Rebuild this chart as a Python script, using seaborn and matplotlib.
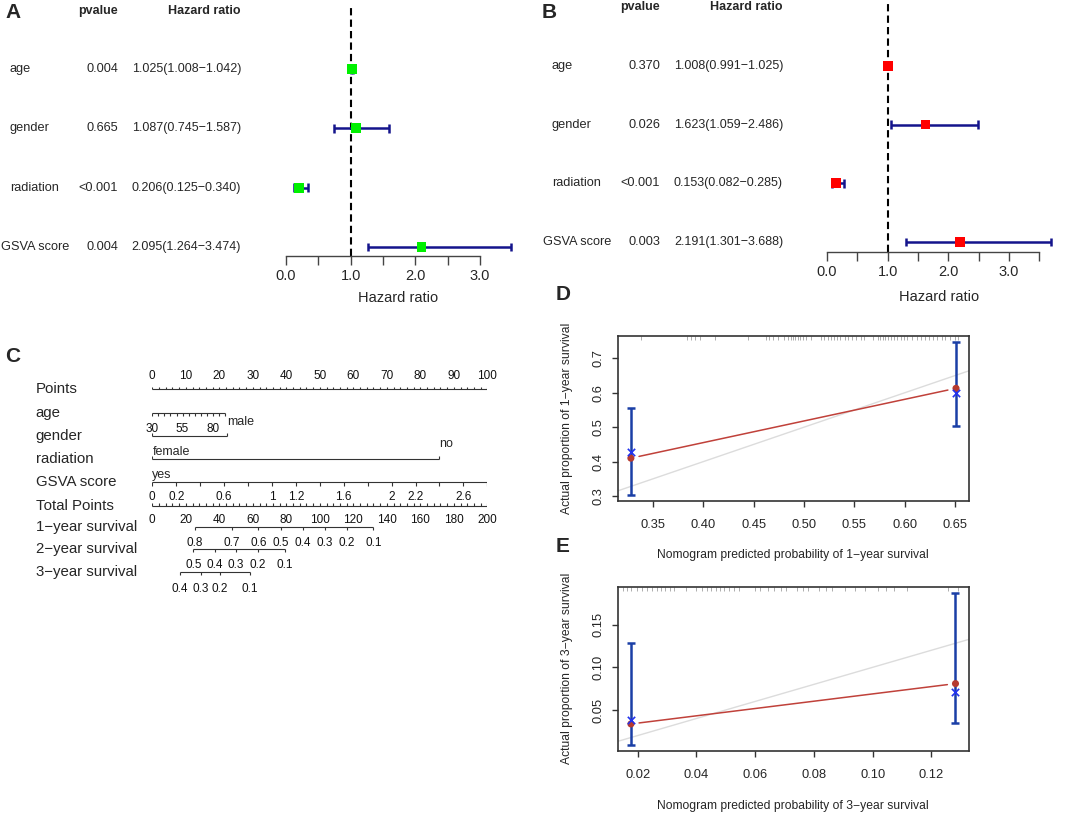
"""
Cox forest plots, nomogram and calibration curves (panels A-E)
"""
import numpy as np
import pandas as pd
import matplotlib
matplotlib.use("Agg")
import matplotlib.pyplot as plt
import matplotlib.transforms as mtransforms
import seaborn as sns

# ---------------- data ----------------
VARIABLES = ["age", "gender", "radiation", "GSVA score"]

# A: univariate Cox
uni_hr = [1.025, 1.087, 0.206, 2.095]
uni_lo = [1.008, 0.745, 0.125, 1.264]
uni_hi = [1.042, 1.587, 0.340, 3.474]
uni_p = ["0.004", "0.665", "<0.001", "0.004"]

# B: multivariate Cox
multi_hr = [1.008, 1.623, 0.153, 2.191]
multi_lo = [0.991, 1.059, 0.082, 1.301]
multi_hi = [1.025, 2.486, 0.285, 3.688]
multi_p = ["0.370", "0.026", "<0.001", "0.003"]

# C: nomogram scales (values -> points)
points_ticks = list(range(0, 101, 2))
points_labels = list(range(0, 101, 10))
age_range = [30, 90]
age_points = [0, 21.7]
age_ticks = list(range(30, 91, 5))
age_labels = [30, 55, 80]
gender_levels = ["female", "male"]
gender_points = [0, 22.2]
radiation_levels = ["yes", "no"]
radiation_points = [0, 85.5]
gsva_range = [0, 2.8]
gsva_ticks = [round(v, 1) for v in np.arange(0, 2.81, 0.2)]
gsva_labels = [0, 0.2, 0.6, 1, 1.2, 1.6, 2, 2.2, 2.6]
total_ticks = list(range(0, 201, 4))
total_labels = list(range(0, 201, 20))
surv1_probs = [0.8, 0.7, 0.6, 0.5, 0.4, 0.3, 0.2, 0.1]
surv1_total = [25.5, 47.4, 63.3, 76.8, 90.1, 103.1, 116.1, 132.0]
surv2_probs = [0.5, 0.4, 0.3, 0.2, 0.1]
surv2_total = [24.5, 37.4, 50.0, 62.9, 79.2]
surv3_probs = [0.4, 0.3, 0.2, 0.1]
surv3_total = [16.5, 29.1, 40.4, 58.3]

# D: 1-year calibration
cal1_pred = [0.328, 0.651]
cal1_obs = [0.410, 0.613]
cal1_corr = [0.429, 0.600]
cal1_lo = [0.304, 0.503]
cal1_hi = [0.555, 0.747]
cal1_rug = [0.3385, 0.384, 0.388, 0.392, 0.397, 0.412, 0.444, 0.462, 0.465,
            0.469, 0.474, 0.480, 0.484, 0.487, 0.489, 0.491, 0.494, 0.496,
            0.499, 0.502, 0.507, 0.517, 0.520, 0.524, 0.527, 0.530, 0.533,
            0.536, 0.541, 0.544, 0.548, 0.552, 0.557, 0.560, 0.569, 0.573,
            0.575, 0.578, 0.580, 0.583, 0.586, 0.589, 0.592, 0.596, 0.599,
            0.602, 0.607, 0.612, 0.616, 0.620, 0.624, 0.628, 0.632, 0.637,
            0.640, 0.645, 0.650, 0.653]

# E: 3-year calibration
cal3_pred = [0.0177, 0.1282]
cal3_obs = [0.0336, 0.0809]
cal3_corr = [0.0383, 0.0711]
cal3_lo = [0.0086, 0.0352]
cal3_hi = [0.1280, 0.1876]
cal3_rug = [0.0150, 0.0163, 0.0177, 0.0199, 0.0215, 0.0232, 0.0248, 0.0265,
            0.0279, 0.0292, 0.0309, 0.0325, 0.0363, 0.0397, 0.0418, 0.0435,
            0.0451, 0.0466, 0.0479, 0.0495, 0.0512, 0.0528, 0.0545, 0.0600,
            0.0616, 0.0644, 0.0665, 0.0688, 0.0704, 0.0742, 0.0764, 0.0781,
            0.0819, 0.0841, 0.0863, 0.0907, 0.0940, 0.0973, 0.1017, 0.1045,
            0.1072, 0.1116, 0.1258, 0.1292]

# ---------------- style ----------------
W, H = 1072, 814
NAVY = "#14148c"
ERR_BLUE = "#1a3fa6"
RED_LINE = "#c0413a"
RED_DOT = "#b63b30"
X_BLUE = "#2233ee"
INK = "#333333"

sns.set_theme(style="white")
plt.rcParams["font.family"] = ["Liberation Sans", "DejaVu Sans"]
plt.rcParams["axes.unicode_minus"] = True


def add_px_axes(fig, left, top, right, bottom):
    """Axes placed by pixel box (origin top-left)"""
    return fig.add_axes([left / W, 1 - bottom / H, (right - left) / W, (bottom - top) / H])


def fig_text(fig, x, y, s, **kwargs):
    return fig.text(x / W, 1 - y / H, s, **kwargs)


def draw_forest(fig, lay, hr, lo, hi, pvals, color):
    ax = add_px_axes(fig, lay["left"], lay["top"], lay["right"], lay["bottom"])
    n = len(VARIABLES)
    rows = np.arange(n, 0, -1)
    ax.set_xlim(0, (lay["right"] - lay["left"]) / lay["unit"])
    ax.set_ylim(*lay["ylim"])
    ax.axvline(1, color="black", lw=1.5, ls=(0, (3.5, 2)), zorder=1)
    ax.hlines(rows, lo, hi, color=NAVY, lw=1.8, zorder=2)
    cap_x = np.r_[lo, hi]
    cap_y = np.r_[rows, rows]
    ax.vlines(cap_x, cap_y - 0.075, cap_y + 0.075, color=NAVY, lw=1.8, zorder=2)
    df = pd.DataFrame({"hr": hr, "row": rows})
    sns.scatterplot(data=df, x="hr", y="row", marker="s", s=50, color=color,
                    edgecolor="none", ax=ax, zorder=3, legend=False)
    for side in ["top", "right", "left"]:
        ax.spines[side].set_visible(False)
    ax.spines["bottom"].set_bounds(0, lay["axis_max"])
    ax.spines["bottom"].set_color("#444444")
    ax.spines["bottom"].set_linewidth(1)
    ticks = np.arange(0, lay["axis_max"] + 0.01, 0.5)
    ax.set_xticks(ticks)
    ax.set_xticklabels([f"{t:.1f}" if t == int(t) else "" for t in ticks])
    ax.set_yticks([])
    ax.tick_params(axis="x", direction="out", length=6.5, width=1, color="#444444",
                   pad=3, labelsize=10.5, bottom=True)
    ax.set_xlabel("")
    ax.set_ylabel("")
    ax.patch.set_alpha(0)

    # text columns, rows tied to the data rows
    trans = mtransforms.blended_transform_factory(fig.transFigure, ax.transData)
    for i, name in enumerate(VARIABLES):
        lx = lay["label_x"] - (9 if name == "GSVA score" else 0)
        ax.text(lx / W, rows[i], name, transform=trans, ha="left", va="center",
                fontsize=9.2, clip_on=False)
        ax.text(lay["p_right"] / W, rows[i], pvals[i], transform=trans, ha="right",
                va="center", fontsize=9.2, clip_on=False)
        hr_txt = f"{hr[i]:.3f}({lo[i]:.3f}\u2212{hi[i]:.3f})"
        ax.text(lay["hr_right"] / W, rows[i], hr_txt, transform=trans, ha="right",
                va="center", fontsize=9.0, clip_on=False)
    fig_text(fig, lay["p_right"], lay["header_y"], "pvalue", ha="right", va="center",
             fontsize=9, fontweight="bold")
    fig_text(fig, lay["hr_right"], lay["header_y"], "Hazard ratio", ha="right",
             va="center", fontsize=9, fontweight="bold")
    fig_text(fig, lay["xlabel_x"], lay["xlabel_y"], "Hazard ratio", ha="center",
             va="center", fontsize=10.5)
    return ax


def nomo_scale(ax, y, x_min, x_max, tick_x, tick_len, labels, label_dy, ha="center"):
    """One nomogram axis: line, ticks (negative length = upward), labels"""
    ax.hlines(y, x_min, x_max, color=INK, lw=0.8)
    ax.vlines(tick_x, y, y + tick_len, color=INK, lw=0.8)
    for lx, txt in labels:
        ax.text(lx, y + label_dy, txt, ha=ha, va="center", fontsize=8.5, color="#111111")


def fmt_num(v):
    return f"{v:g}"


def draw_nomogram(fig):
    ax = add_px_axes(fig, 152.3, 360, 487.3, 600)
    ax.set_xlim(0, 100)
    ax.set_ylim(600, 360)
    ax.axis("off")

    row_y = {"Points": 389.3, "age": 412.7, "gender": 436.0, "radiation": 459.0,
             "GSVA score": 481.7, "Total Points": 505.7, "1\u2212year survival": 526.7,
             "2\u2212year survival": 549.3, "3\u2212year survival": 572.0}
    trans = mtransforms.blended_transform_factory(fig.transFigure, ax.transData)
    for name, y in row_y.items():
        ax.text(35.7 / W, y, name, transform=trans, ha="left", va="center",
                fontsize=10.8, clip_on=False)

    # Points
    nomo_scale(ax, row_y["Points"], 0, 100, points_ticks, -2.5,
               [(p, str(p)) for p in points_labels], -13.3)
    # age
    age_to_pts = lambda a: np.interp(a, age_range, age_points)
    nomo_scale(ax, row_y["age"], age_points[0], age_points[1], age_to_pts(age_ticks), 3,
               [(age_to_pts(a), str(a)) for a in age_labels], 16.3)
    # gender (categorical: first level below, second above)
    y = row_y["gender"]
    nomo_scale(ax, y, gender_points[0], gender_points[1], gender_points, -3, [], 0)
    ax.text(gender_points[0], y + 15.7, gender_levels[0], ha="left", va="center", fontsize=9)
    ax.text(gender_points[1], y - 14.3, gender_levels[1], ha="left", va="center", fontsize=9)
    # radiation
    y = row_y["radiation"]
    nomo_scale(ax, y, radiation_points[0], radiation_points[1], radiation_points, -3, [], 0)
    ax.text(radiation_points[0], y + 16, radiation_levels[0], ha="left", va="center", fontsize=9)
    ax.text(radiation_points[1], y - 15, radiation_levels[1], ha="left", va="center", fontsize=9)
    # GSVA score
    gsva_to_pts = lambda g: np.interp(g, gsva_range, [0, 100])
    nomo_scale(ax, row_y["GSVA score"], 0, 100, gsva_to_pts(gsva_ticks), 4,
               [(gsva_to_pts(g), fmt_num(g)) for g in gsva_labels], 15.6)
    # Total Points (0-200 mapped onto 0-100)
    nomo_scale(ax, row_y["Total Points"], 0, 100, np.array(total_ticks) / 2, -2.5,
               [(t / 2, str(t)) for t in total_labels], 14.3)
    # survival scales
    for key, probs, tot, dy in [("1\u2212year survival", surv1_probs, surv1_total, 16.0),
                                ("2\u2212year survival", surv2_probs, surv2_total, 15.7),
                                ("3\u2212year survival", surv3_probs, surv3_total, 16.7)]:
        xs = np.array(tot) / 2
        nomo_scale(ax, row_y[key], xs.min(), xs.max(), xs, 3,
                   [(x, fmt_num(p)) for x, p in zip(xs, probs)], dy)
    return ax


def draw_calibration(fig, box, xlim, ylim, xticks, yticks, xfmt, yfmt,
                     pred, obs, corr, lo, hi, rug, xlabel, ylabel, xlabel_y, ylabel_y):
    ax = add_px_axes(fig, *box)
    ax.set_xlim(*xlim)
    ax.set_ylim(*ylim)
    ax.plot([0, 1], [0, 1], color="#dcdcdc", lw=1.0, zorder=1)

    # observed line with small gaps at the points (type = "b")
    t = 0.025
    x0, x1 = pred
    y0, y1 = obs
    line_df = pd.DataFrame({"x": [x0 + (x1 - x0) * t, x1 - (x1 - x0) * t],
                            "y": [y0 + (y1 - y0) * t, y1 - (y1 - y0) * t]})
    sns.lineplot(data=line_df, x="x", y="y", color=RED_LINE, lw=1.1, ax=ax,
                 sort=False, estimator=None, zorder=2)

    mid = (np.array(lo) + np.array(hi)) / 2
    half = (np.array(hi) - np.array(lo)) / 2
    ax.errorbar(pred, mid, yerr=half, fmt="none", ecolor=ERR_BLUE, elinewidth=1.8,
                capsize=2.6, capthick=1.8, zorder=3)
    sns.scatterplot(x=pred, y=obs, color=RED_DOT, s=26, edgecolor="none", ax=ax,
                    zorder=4, legend=False)
    sns.scatterplot(x=pred, y=corr, color=X_BLUE, marker="x", s=28, linewidth=1.2,
                    ax=ax, zorder=5, legend=False)

    rug_trans = mtransforms.blended_transform_factory(ax.transData, ax.transAxes)
    ax.vlines(rug, 0.975, 1.0, transform=rug_trans, color="#a0a0a0", lw=0.6, zorder=1)

    for side in ax.spines.values():
        side.set_visible(True)
        side.set_color(INK)
        side.set_linewidth(1.2)
    ax.set_xticks(xticks)
    ax.set_xticklabels([xfmt.format(v) for v in xticks])
    ax.set_yticks(yticks)
    ax.set_yticklabels([yfmt.format(v) for v in yticks], rotation=90, va="center")
    ax.tick_params(axis="both", direction="out", length=4.3, width=1, color=INK,
                   labelsize=9.3, bottom=True, left=True)
    ax.tick_params(axis="x", pad=8.6)
    ax.tick_params(axis="y", pad=5.5)
    ax.set_xlabel("")
    ax.set_ylabel("")
    fig_text(fig, 793, xlabel_y, xlabel, ha="center", va="center", fontsize=8.7)
    fig_text(fig, 567, ylabel_y, ylabel, ha="center", va="center", fontsize=8.7,
             rotation=90)
    return ax


# ---------------- figure ----------------
fig = plt.figure(figsize=(W / 100, H / 100), dpi=100)
fig.patch.set_facecolor("white")

layout_a = dict(left=286, right=520, unit=64.67, top=8, bottom=256, ylim=(0.848, 5.03),
                axis_max=3.0, label_x=10, p_right=118, hr_right=241, header_y=11,
                xlabel_x=398, xlabel_y=298)
layout_b = dict(left=827, right=1068, unit=60.67, top=3, bottom=252, ylim=(0.83, 5.07),
                axis_max=3.5, label_x=552, p_right=660, hr_right=783, header_y=7,
                xlabel_x=939, xlabel_y=297)

draw_forest(fig, layout_a, uni_hr, uni_lo, uni_hi, uni_p, "#00f000")
draw_forest(fig, layout_b, multi_hr, multi_lo, multi_hi, multi_p, "#ff0000")
draw_nomogram(fig)

draw_calibration(fig, (618, 336, 969, 501), (0.3152, 0.6639), (0.2855, 0.765),
                 [0.35, 0.40, 0.45, 0.50, 0.55, 0.60, 0.65], [0.3, 0.4, 0.5, 0.6, 0.7],
                 "{:.2f}", "{:.1f}", cal1_pred, cal1_obs, cal1_corr, cal1_lo, cal1_hi,
                 cal1_rug, "Nomogram predicted probability of 1\u2212year survival",
                 "Actual proportion of 1\u2212year survival", 555, 418)
draw_calibration(fig, (618, 586.7, 969, 751), (0.0133, 0.1328), (0.0019, 0.1945),
                 [0.02, 0.04, 0.06, 0.08, 0.10, 0.12], [0.05, 0.10, 0.15],
                 "{:.2f}", "{:.2f}", cal3_pred, cal3_obs, cal3_corr, cal3_lo, cal3_hi,
                 cal3_rug, "Nomogram predicted probability of 3\u2212year survival",
                 "Actual proportion of 3\u2212year survival", 806, 668)

for letter, (x, y) in {"A": (13, 13), "B": (549.5, 13), "C": (13, 357),
                       "D": (563, 294), "E": (563, 546)}.items():
    fig_text(fig, x, y, letter, ha="center", va="center", fontsize=15, fontweight="bold")

fig.savefig("out.png", dpi=100)
